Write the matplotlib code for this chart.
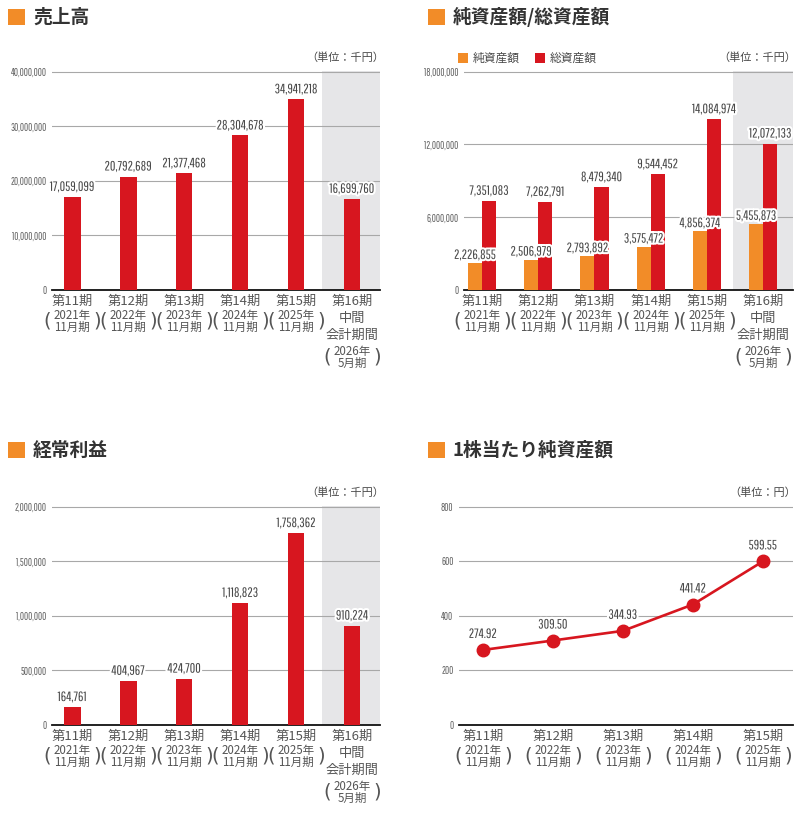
import matplotlib
matplotlib.use("Agg")
import matplotlib.pyplot as plt
import matplotlib.patheffects as pe
from matplotlib.patches import Rectangle
from matplotlib.ticker import FuncFormatter

plt.rcParams['font.family'] = ['Noto Sans CJK JP', 'DejaVu Sans']

# --- data ---
periods = ['第11期', '第12期', '第13期', '第14期', '第15期', '第16期']
years = ['2021年', '2022年', '2023年', '2024年', '2025年', '2026年']
months = ['11月期', '11月期', '11月期', '11月期', '11月期', '5月期']

sales = [17059099, 20792689, 21377468, 28304678, 34941218, 16699760]
net_assets = [2226855, 2506979, 2793892, 3575472, 4856374, 5455873]
total_assets = [7351083, 7262791, 8479340, 9544452, 14084974, 12072133]
ordinary_profit = [164761, 404967, 424700, 1118823, 1758362, 910224]
bps = [274.92, 309.50, 344.93, 441.42, 599.55]

RED = '#d7161f'
ORANGE = '#f28c28'
SHADE = '#e6e6e8'
GRID = '#a8a8a8'
TXT = '#484848'
# 数字は細い書体（無ければ普通のサンセリフ）
NUM_FONT = ['Pathway Gothic One', 'Archivo Narrow', 'Liberation Sans']

W, H = 796, 813
fig = plt.figure(figsize=(W / 100, H / 100), dpi=100)
fig.patch.set_facecolor('white')


def rect(l, t, r, b):
    return [l / W, 1 - b / H, (r - l) / W, (b - t) / H]


def halo():
    return [pe.withStroke(linewidth=3, foreground='white')]


def title(x, y, text):
    fig.add_artist(Rectangle(((x - 25) / W, 1 - (y + 8) / H), 17 / W, 16 / H,
                             transform=fig.transFigure, color=ORANGE, lw=0))
    fig.text(x / W, 1 - y / H, text, fontsize=13.5, fontweight='bold',
             color='#333333', va='center', ha='left')


def setup(ax, ymax, step, xlim, shade=True, fmt=True):
    ax.set_xlim(*xlim)
    ax.set_ylim(0, ymax * 1.003)
    ax.set_yticks(list(range(0, int(ymax) + 1, int(step))))
    if fmt:
        ax.yaxis.set_major_formatter(FuncFormatter(lambda v, p: f'{int(v):,}'))
    for s in ['top', 'right', 'left']:
        ax.spines[s].set_visible(False)
    ax.spines['bottom'].set_linewidth(1.3)
    ax.spines['bottom'].set_color('#111111')
    ax.set_axisbelow(True)
    ax.grid(axis='y', color=GRID, lw=0.8)
    ax.tick_params(axis='y', length=0, pad=4, labelsize=7.3, labelcolor='#606060')
    for lab in ax.get_yticklabels():
        lab.set_family(NUM_FONT)
    ax.set_xticks([])
    if shade:
        ax.axvspan(4.46, xlim[1], color=SHADE, lw=0, zorder=0)


def xlabels(ax, n):
    for i in range(n):
        kw = dict(xycoords=('data', 'axes fraction'), textcoords='offset pixels',
                  ha='center', va='center', color='#555555')
        ax.annotate(periods[i], (i, 0), xytext=(0, -11), fontsize=9.5, **kw)
        if i < 5:
            ax.annotate(years[i], (i, 0), xytext=(0, -25), fontsize=8.3, **kw)
            ax.annotate(months[i], (i, 0), xytext=(0, -37), fontsize=8.3, **kw)
            py = -31
        else:
            ax.annotate('中間', (i, 0), xytext=(0, -28), fontsize=9.5, **kw)
            ax.annotate('会計期間', (i, 0), xytext=(0, -45), fontsize=9.5, **kw)
            ax.annotate(years[i], (i, 0), xytext=(0, -61), fontsize=8.3, **kw)
            ax.annotate(months[i], (i, 0), xytext=(0, -73), fontsize=8.3, **kw)
            py = -67
        ax.annotate('(', (i, 0), xytext=(-25, py), fontsize=14, family='DejaVu Sans', **kw)
        ax.annotate(')', (i, 0), xytext=(25, py), fontsize=14, family='DejaVu Sans', **kw)


def value_label(ax, x, y, text, dy=4):
    ax.annotate(text, (x, y), xytext=(0, dy), textcoords='offset pixels',
                ha='center', va='bottom', fontsize=9.7, color=TXT,
                family=NUM_FONT, path_effects=halo(), zorder=5)


def unit(x_right, y, text):
    fig.text(x_right / W, 1 - y / H, text, fontsize=8, color=TXT,
             ha='right', va='center')


x6 = list(range(6))

# --- 売上高 ---
title(33, 17, '売上高')
unit(384, 58, '（単位：千円）')
ax1 = fig.add_axes(rect(52, 71, 380, 290))
setup(ax1, 40000000, 10000000, (-0.36, 5.5))
ax1.bar(x6, sales, width=0.3, color=RED, zorder=3)
for i, v in enumerate(sales):
    value_label(ax1, i, v, f'{v:,}')
xlabels(ax1, 6)

# --- 純資産額/総資産額 ---
title(453, 17, '純資産額/総資産額')
unit(796, 58, '（単位：千円）')
for x0, c, lab in [(458, ORANGE, '純資産額'), (535, RED, '総資産額')]:
    fig.add_artist(Rectangle((x0 / W, 1 - 63 / H), 10 / W, 10 / H,
                             transform=fig.transFigure, color=c, lw=0))
    fig.text((x0 + 15) / W, 1 - 58 / H, lab, fontsize=8.5, color=TXT, va='center')
ax2 = fig.add_axes(rect(464, 71, 793, 290))
setup(ax2, 18000000, 6000000, (-0.32, 5.53))
bw = 0.25
ax2.bar([i - bw / 2 for i in x6], net_assets, width=bw, color=ORANGE, zorder=3)
ax2.bar([i + bw / 2 for i in x6], total_assets, width=bw, color=RED, zorder=3)
for i in x6:
    value_label(ax2, i - bw / 2, net_assets[i], f'{net_assets[i]:,}', dy=2)
    value_label(ax2, i + bw / 2, total_assets[i], f'{total_assets[i]:,}')
xlabels(ax2, 6)

# --- 経常利益 ---
title(33, 450, '経常利益')
unit(384, 493, '（単位：千円）')
ax3 = fig.add_axes(rect(52, 506, 380, 725))
setup(ax3, 2000000, 500000, (-0.36, 5.5))
ax3.bar(x6, ordinary_profit, width=0.3, color=RED, zorder=3)
for i, v in enumerate(ordinary_profit):
    value_label(ax3, i, v, f'{v:,}')
xlabels(ax3, 6)

# --- 1株当たり純資産額 ---
title(453, 450, '1株当たり純資産額')
unit(796, 493, '（単位：円）')
ax4 = fig.add_axes(rect(459, 506, 793, 725))
setup(ax4, 800, 200, (-0.34, 4.43), shade=False, fmt=False)
x5 = list(range(5))
ax4.plot(x5, bps, color=RED, lw=1.9, marker='o', markersize=9, zorder=4)
for i, v in enumerate(bps):
    value_label(ax4, i, v, f'{v:.2f}', dy=10)
xlabels(ax4, 5)

fig.savefig('out.png', dpi=100)
